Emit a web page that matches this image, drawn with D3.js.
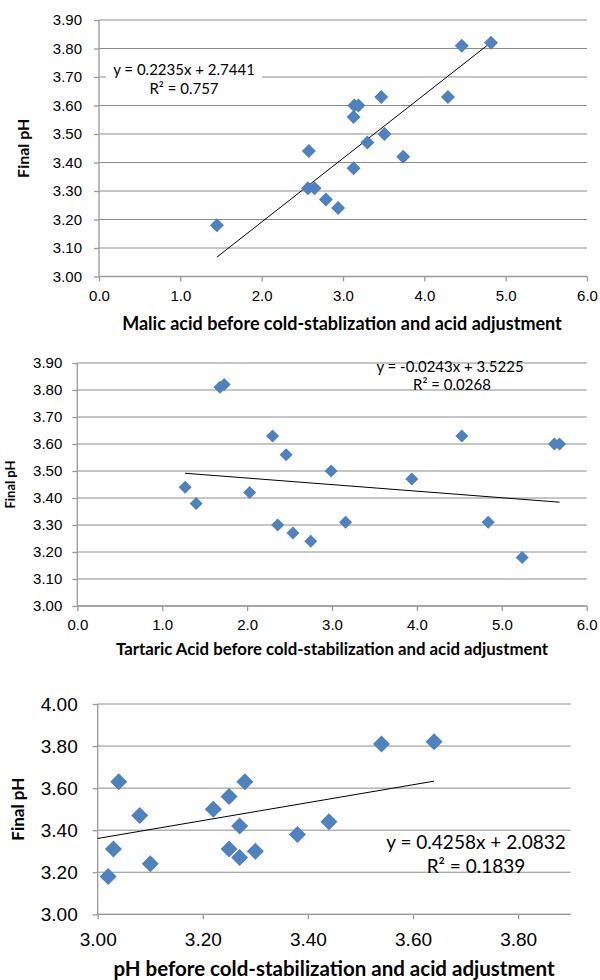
<!DOCTYPE html>
<html>
<head>
<meta charset="utf-8">
<script src="https://cdn.jsdelivr.net/npm/d3@7"></script>
<style>
  body { margin: 0; background: #fff; }
  svg { display: block; font-family: Lato, "Liberation Sans", sans-serif; }
  .grid line { stroke: #8c8c8c; stroke-width: 1; }
  .axis path, .axis line { stroke: #9a9a9a; stroke-width: 1.3; }
  .axis text { fill: #000; }
  .trend { stroke: #000; stroke-width: 1; fill: none; }
  .point { fill: #4f81bd; }
  .title { font-weight: bold; fill: #000; }
</style>
</head>
<body>
<div class="vis-holder"></div>
<script>
// panel 1: malic acid vs final pH
var malicX = [1.45, 2.57, 2.65, 2.79, 2.94, 3.13, 2.58, 3.13, 3.14, 3.19, 3.30, 3.51, 3.47, 3.74, 4.29, 4.46, 4.82];
var malicY = [3.18, 3.31, 3.31, 3.27, 3.24, 3.38, 3.44, 3.56, 3.60, 3.60, 3.47, 3.50, 3.63, 3.42, 3.63, 3.81, 3.82];
var malicTicks = [0, 1, 2, 3, 4, 5, 6];
var malicEq = ["y = 0.2235x + 2.7441", "R\u00b2 = 0.757"];
var malicFit = [0.2235, 2.7441];

// panel 2: tartaric acid vs final pH
var tartaricX = [1.27, 1.68, 1.73, 2.30, 2.46, 2.03, 1.40, 2.36, 2.54, 2.75, 3.16, 4.84, 5.24, 2.99, 3.94, 4.53, 5.62, 5.68];
var tartaricY = [3.44, 3.81, 3.82, 3.63, 3.56, 3.42, 3.38, 3.30, 3.27, 3.24, 3.31, 3.31, 3.18, 3.50, 3.47, 3.63, 3.60, 3.60];
var tartaricTicks = [0, 1, 2, 3, 4, 5, 6];
var tartaricEq = ["y = -0.0243x + 3.5225", "R\u00b2 = 0.0268"];
var tartaricFit = [-0.0243, 3.5225];

// panel 3: pH before vs final pH
var phX = [3.04, 3.08, 3.22, 3.25, 3.28, 3.02, 3.03, 3.10, 3.25, 3.27, 3.27, 3.30, 3.38, 3.44, 3.54, 3.64];
var phY = [3.63, 3.47, 3.50, 3.56, 3.63, 3.18, 3.31, 3.24, 3.31, 3.42, 3.27, 3.30, 3.38, 3.44, 3.81, 3.82];
var phTicks = [3.0, 3.2, 3.4, 3.6, 3.8];
var phEq = ["y = 0.4258x + 2.0832", "R\u00b2 = 0.1839"];
var phFit = [0.4258, 2.0832];
var phFitRange = [3.0, 3.64];

var finalTicks = [3.0, 3.1, 3.2, 3.3, 3.4, 3.5, 3.6, 3.7, 3.8, 3.9];
var finalTicks3 = [3.0, 3.2, 3.4, 3.6, 3.8, 4.0];

var width = 600;
var height = 980;

var svg = d3.select(".vis-holder")
            .append("svg")
            .attr("width", width)
            .attr("height", height);

function scatter_panel(p) {
  var g = svg.append("g");

  var xScale = d3.scaleLinear().domain(p.xDomain).range([p.left, p.right]);
  var yScale = d3.scaleLinear().domain(p.yDomain).range([p.bottom, p.top]);

  // horizontal gridlines
  g.append("g")
   .attr("class", "grid")
   .selectAll("line")
   .data(p.yTicks)
   .enter()
   .append("line")
   .attr("x1", p.left)
   .attr("x2", p.right)
   .attr("y1", function(d) { return yScale(d); })
   .attr("y2", function(d) { return yScale(d); });

  // equation label (with white box on panel 1)
  var eq = g.append("g");
  if (p.eqBox) {
    eq.append("rect")
      .attr("x", p.eqX - 78)
      .attr("y", p.eqY - 14)
      .attr("width", 156)
      .attr("height", 20)
      .attr("fill", "#fff");
  }
  eq.selectAll("text")
    .data(p.eq)
    .enter()
    .append("text")
    .attr("x", function(d, i) { return p.eqX + (i == 1 ? p.eqR2dx : 0); })
    .attr("y", function(d, i) { return p.eqY + i * p.eqGap; })
    .attr("text-anchor", "middle")
    .style("font-size", p.eqSize + "px")
    .text(function(d) { return d; });

  // axes
  var xAxis = g.append("g")
               .attr("class", "axis")
               .attr("transform", "translate(0," + p.bottom + ")")
               .call(d3.axisBottom(xScale).tickValues(p.xTicks).tickSize(5)
                       .tickPadding(p.xPad).tickFormat(d3.format(p.xFmt)));
  xAxis.selectAll("text").style("font-size", p.tickSize + "px");
  xAxis.select(".domain").attr("d", "M" + p.left + ",0H" + p.right);

  var yAxis = g.append("g")
               .attr("class", "axis")
               .attr("transform", "translate(" + p.left + ",0)")
               .call(d3.axisLeft(yScale).tickValues(p.yTicks).tickSize(5)
                       .tickPadding(p.yPad).tickFormat(d3.format(".2f")));
  yAxis.selectAll("text").style("font-size", p.tickSize + "px");
  yAxis.select(".domain").attr("d", "M0," + p.top + "V" + p.bottom);

  // trendline
  var line = d3.line()
               .x(function(d) { return xScale(d); })
               .y(function(d) { return yScale(p.fit[0] * d + p.fit[1]); });
  g.append("path")
   .attr("class", "trend")
   .attr("d", line(p.fitRange || d3.extent(p.x)));

  // diamond markers
  var symbol = d3.symbol().type(d3.symbolSquare).size(p.marker * p.marker / 2);
  g.append("g")
   .selectAll("path")
   .data(p.x)
   .enter()
   .append("path")
   .attr("class", "point")
   .attr("d", symbol)
   .attr("transform", function(d, i) {
     return "translate(" + xScale(d) + "," + yScale(p.y[i]) + ")rotate(45)";
   });

  // axis titles
  g.append("text")
   .attr("class", "title")
   .attr("text-anchor", "middle")
   .attr("x", p.xTitleX)
   .attr("y", p.xTitleY)
   .style("font-size", p.xTitleSize + "px")
   .text(p.xTitle);

  g.append("text")
   .attr("class", "title")
   .attr("text-anchor", "middle")
   .attr("transform", "translate(" + p.yTitleX + "," + ((p.top + p.bottom) / 2) + ")rotate(-90)")
   .style("font-size", p.yTitleSize + "px")
   .text("Final pH");
}

scatter_panel({
  x: malicX, y: malicY, fit: malicFit, eq: malicEq,
  xDomain: [0, 6], yDomain: [3.0, 3.9], xTicks: malicTicks, yTicks: finalTicks, xFmt: ".1f",
  left: 99, right: 587, top: 20, bottom: 276.5,
  tickSize: 15, xPad: 9, yPad: 12, marker: 14,
  eqX: 184, eqY: 75, eqGap: 19, eqR2dx: 0, eqSize: 15, eqBox: true,
  xTitle: "Malic acid before cold-stablization and acid adjustment",
  xTitleX: 342, xTitleY: 330, xTitleSize: 18,
  yTitleX: 29, yTitleSize: 16
});

scatter_panel({
  x: tartaricX, y: tartaricY, fit: tartaricFit, eq: tartaricEq,
  xDomain: [0, 6], yDomain: [3.0, 3.9], xTicks: tartaricTicks, yTicks: finalTicks, xFmt: ".1f",
  left: 77.3, right: 586.7, top: 363, bottom: 606,
  tickSize: 15, xPad: 8, yPad: 10, marker: 13,
  eqX: 450, eqY: 372, eqGap: 18, eqR2dx: 2, eqSize: 15, eqBox: false,
  xTitle: "Tartaric Acid before cold-stabilization and acid adjustment",
  xTitleX: 332, xTitleY: 655, xTitleSize: 16.8,
  yTitleX: 15, yTitleSize: 13
});

scatter_panel({
  x: phX, y: phY, fit: phFit, fitRange: phFitRange, eq: phEq,
  xDomain: [3.0, 3.9], yDomain: [3.0, 4.0], xTicks: phTicks, yTicks: finalTicks3, xFmt: ".2f",
  left: 97.7, right: 570.7, top: 704, bottom: 914.3,
  tickSize: 19, xPad: 13, yPad: 15, marker: 17,
  eqX: 476, eqY: 849, eqGap: 24, eqR2dx: 0, eqSize: 19,  eqBox: false,
  xTitle: "pH before cold-stabilization and acid adjustment",
  xTitleX: 334, xTitleY: 976, xTitleSize: 20.5,
  yTitleX: 24, yTitleSize: 17
});
</script>
</body>
</html>
